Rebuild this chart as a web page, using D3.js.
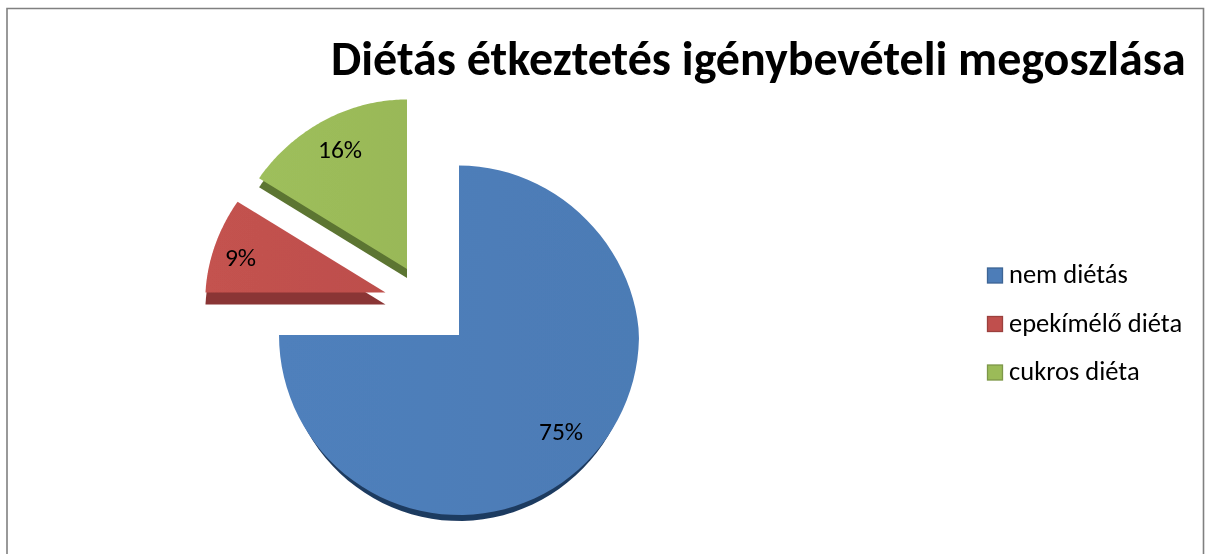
<!DOCTYPE html>
<html><head><meta charset="utf-8">
<script src="https://cdn.jsdelivr.net/npm/d3@7"></script>
<style>html,body{margin:0;background:#fff}svg{display:block}text{font-family:Carlito,Calibri,Lato,"Open Sans","Noto Sans",sans-serif;fill:#000}</style>
</head><body><svg width="1209" height="554"></svg>
<script>
const categories=["nem diétás","epekímélő diéta","cukros diéta"];
const values=[75,9,16];
const labels=["75%","9%","16%"];
const colors=["#4d7db8","#c0504d","#9bbb59"];
const sideColors=["#1f3b60","#8a3534","#5c7431"];
const title="Diétás étkeztetés igénybevételi megoszlása";

const svg=d3.select("svg");
const defs=svg.append("defs");
defs.append("filter").attr("id","soft").append("feGaussianBlur").attr("stdDeviation",0.45);
const root=svg.append("g").attr("filter","url(#soft)");
root.append("path").attr("d","M7 554V8.5H1203.5V554").attr("fill","none").attr("stroke","#808080").attr("stroke-width",1.6);
root.append("text").attr("x",331).attr("y",75).attr("font-size",48).attr("font-weight",700).text(title);

const pie=d3.pie().sort(null).startAngle(0).endAngle(2*Math.PI)(values);
const rx=d3.scaleLinear().domain([0,1]).range([0,180]);
const ryUp=d3.scaleLinear().domain([0,1]).range([0,169.5]);
const ryDown=d3.scaleLinear().domain([0,1]).range([0,180]);
const taper=d3.scaleLinear().domain([0,1]).range([1,0.95]);
const proj=a=>{const c=Math.cos(a);return [rx(Math.sin(a))*(c>0?taper(c):1),c>0?-ryUp(c):ryDown(-c)];};
const centers=[[459,335],[385.5,292.5],[407,269]];
const depths=[6,12,9];
const sideScale=[0.975,1,1];
colors.forEach((c,i)=>{const g=defs.append("linearGradient").attr("id","g"+i);
 g.append("stop").attr("offset",0).attr("stop-color",d3.color(c).brighter(.06));
 g.append("stop").attr("offset",1).attr("stop-color",d3.color(c).darker(.04));});
function sector(d){const n=80,pts=[[0,0]];
 for(let k=0;k<=n;k++)pts.push(proj(d.startAngle+(d.endAngle-d.startAngle)*k/n));
 return pts;}
const line=d3.line();
const gs=root.selectAll(".s").data(pie).join("g").attr("transform",(d,i)=>`translate(${centers[i]})`);
gs.append("path").attr("transform",(d,i)=>`translate(0,${depths[i]}) scale(${sideScale[i]},1)`).attr("d",d=>line(sector(d))+"Z").attr("fill",(d,i)=>sideColors[i]);
gs.append("path").attr("d",d=>line(sector(d))+"Z").attr("fill",(d,i)=>`url(#g${i})`);
const labelPos=[[561,440],[240.5,266],[340,158]];
root.selectAll(".l").data(labels).join("text").attr("x",(d,i)=>labelPos[i][0]).attr("y",(d,i)=>labelPos[i][1]).attr("text-anchor","middle").attr("font-size",25.5).text(d=>d);
const leg=d3.scalePoint().domain(categories).range([275.5,372.5]);
const lg=root.selectAll(".k").data(categories).join("g").attr("transform",d=>`translate(987,${leg(d)})`);
lg.append("rect").attr("x",.5).attr("y",-7.5).attr("width",15).attr("height",15).attr("fill",(d,i)=>colors[i]).attr("stroke",(d,i)=>d3.color(colors[i]).darker(.6)).attr("stroke-width",1.3);
lg.append("text").attr("x",22).attr("y",7.5).attr("font-size",26.5).text(d=>d);
</script></body></html>
